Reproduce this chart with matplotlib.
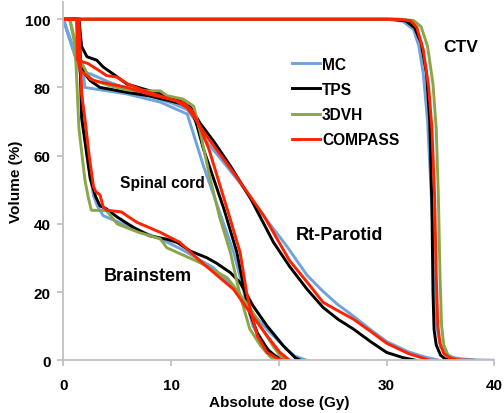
import matplotlib
matplotlib.use("Agg")
import matplotlib.pyplot as plt

# ---------------- data ----------------
series_names = ["MC", "TPS", "3DVH", "COMPASS"]
series_colors = ["#6fa3dc", "#000000", "#8ba64a", "#ff2200"]

# CTV
ctv_mc_dose = [0, 30, 31.5, 32.5, 33.0, 33.4, 33.8, 34.2, 34.45, 34.7, 35.0, 35.5, 36.2, 37.0, 38.5, 40]
ctv_mc_vol = [100, 100, 99.4, 97, 92, 84, 70, 45, 22, 9, 4, 1.8, 0.8, 0.4, 0.1, 0]
ctv_tps_dose = [0, 30.5, 31.8, 32.6, 33.2, 33.7, 34.0, 34.2, 34.3, 34.4, 34.6, 35.0, 35.4, 35.8]
ctv_tps_vol = [100, 100, 99.5, 97.5, 93, 84, 70, 45, 20, 9, 4.5, 1.5, 0.5, 0]
ctv_3d_dose = [0, 31.3, 32.5, 33.2, 33.8, 34.3, 34.6, 34.8, 34.95, 35.1, 35.3, 35.7, 36.2, 36.9]
ctv_3d_vol = [100, 100, 99.6, 97.8, 92, 81, 68, 48, 25, 10, 4.5, 1.5, 0.5, 0]
ctv_com_dose = [0, 31.0, 32.2, 32.8, 33.4, 33.9, 34.2, 34.45, 34.6, 34.75, 34.95, 35.3, 35.8, 36.6, 38.0]
ctv_com_vol = [100, 100, 99.6, 97.6, 91, 80, 68, 48, 25, 10, 5, 2, 0.8, 0.1, 0]

# Rt-Parotid (no 3DVH curve)
par_mc_dose = [0, 1.55, 2.5, 4.3, 6.0, 8.0, 10.0, 11.5, 12.2, 12.8, 14.5, 16.4, 18.3, 20.7, 22.6, 24.0,
               25.4, 26.9, 28.5, 30.0, 32.0, 33.5, 34.9]
par_mc_vol = [100, 84.5, 84, 81.5, 79.5, 77.5, 75.5, 73.5, 70.5, 66, 59.5, 52, 43.5, 33.6, 25, 20.5,
              16.5, 13, 9, 5.5, 2.5, 1, 0]
par_tps_dose = [0, 1.45, 1.7, 2.2, 3.1, 3.7, 4.6, 5.9, 7.4, 9.0, 10.8, 11.8, 12.7, 14.0, 15.5, 17.4,
                19.5, 21.0, 22.6, 24.1, 25.5, 26.9, 28.5, 30.0, 31.5, 32.7]
par_tps_vol = [100, 100, 92, 89, 88, 86, 84, 81, 79.6, 78.1, 76.1, 74.2, 69.5, 64, 57, 47.3,
               34.6, 27.5, 20.9, 15.5, 12, 9.2, 5.5, 2.3, 0.8, 0]
par_com_dose = [0, 1.25, 1.3, 2.3, 3.3, 4.0, 5.0, 6.0, 7.5, 9.0, 10.5, 11.5, 12.2, 13.0, 15.8, 18.6,
                21.0, 22.6, 24.1, 25.5, 26.9, 28.5, 30.0, 32.0, 34.0]
par_com_vol = [100, 100, 88, 87, 85, 83.5, 83, 81, 79, 77.5, 76, 74, 71, 67, 55, 42.4,
               29.2, 23, 17, 14.5, 12.1, 8.5, 5, 2, 0]

# Spinal cord
sc_mc_dose = [0, 1.9, 2.0, 5.9, 9.0, 11.5, 13.0, 14.5, 15.8, 16.6, 17.0, 17.6, 18.5, 19.5, 20.5]
sc_mc_vol = [100, 83, 80, 78.1, 75.7, 72.2, 57, 43.5, 31.7, 22, 17, 10, 5, 1.5, 0]
sc_tps_dose = [0, 1.3, 1.6, 2.0, 2.5, 3.4, 4.3, 6.0, 8.0, 10.0, 11.2, 11.8, 12.3, 13.0, 14.9, 16.1,
               16.9, 17.3, 18.0, 19.0, 19.8, 20.5]
sc_tps_vol = [100, 100, 88, 84, 82, 80, 79.5, 78.5, 77.5, 76, 75, 74, 70, 62, 44.4, 31.7,
              19, 14, 8, 3, 1, 0]
sc_3d_dose = [0, 0.6, 1.55, 1.9, 2.5, 4.3, 5.9, 7.7, 9.0, 9.6, 11.1, 12.1, 12.7, 13.5, 14.5, 15.5,
              16.4, 17.3, 18.3, 19.2, 19.8]
sc_3d_vol = [100, 100, 88, 86, 82.5, 80.5, 79.3, 79, 79, 77.6, 76.6, 74.5, 67, 55, 42, 31.7,
             19, 9.2, 4.3, 1, 0]
sc_com_dose = [0, 1.25, 1.4, 1.55, 2.8, 5.9, 8.0, 10.0, 11.2, 12.0, 12.6, 13.5, 15.3, 16.4, 17.0,
               17.5, 18.0, 18.9, 20.0, 20.5]
sc_com_vol = [100, 100, 88, 85, 82, 80, 78, 76.5, 75.5, 73, 69, 62, 43.4, 31.7, 20,
              13, 7.2, 2.3, 0.3, 0]

# Brainstem
bs_mc_dose = [0, 1.55, 1.8, 2.2, 2.8, 3.2, 3.7, 5.9, 9.0, 11.0, 13.9, 15.8, 17.5, 18.9, 20.7, 21.5, 22.6]
bs_mc_vol = [100, 85, 75, 60, 48.3, 45, 42.4, 39.5, 35.6, 32.5, 27.2, 21.3, 14, 9.1, 3.3, 1.2, 0]
bs_tps_dose = [0, 1.45, 1.7, 2.5, 3.0, 3.4, 4.0, 5.0, 6.5, 8.0, 9.6, 10.6, 11.8, 13.3, 14.2, 15.5,
               16.4, 17.6, 18.9, 20.4, 21.5, 22.0]
bs_tps_vol = [100, 100, 71, 53.2, 48, 45.3, 44.4, 42, 39, 36.5, 35.5, 34.5, 32, 30.1, 28.5, 25.7,
              22.8, 16, 10.1, 4.3, 0.8, 0]
bs_3d_dose = [0, 0.6, 1.1, 1.25, 1.45, 2.0, 2.3, 2.6, 4.0, 5.0, 7.0, 9.0, 9.6, 12.7, 15.2, 16.0,
              17.5, 18.5, 19.5, 20.2, 20.8]
bs_3d_vol = [100, 100, 92, 82, 68, 53, 48, 44, 43.9, 40, 37.5, 35.6, 33, 28.6, 24.2, 21,
             14.5, 9, 4, 1, 0]
bs_com_dose = [0, 1.45, 1.7, 2.0, 2.4, 2.8, 3.0, 3.4, 3.7, 4.0, 5.4, 5.9, 6.8, 9.0, 10.8, 12.7,
               15.8, 17.3, 18.9, 20.1, 21.0]
bs_com_vol = [100, 100, 78, 71, 60, 51, 49.5, 48.5, 45, 44, 43.5, 42.4, 40.5, 37.5, 34.6, 29.1,
              20.8, 14.1, 7.2, 2.3, 0]

x_ticks = [0, 10, 20, 30, 40]
y_ticks = [0, 20, 40, 60, 80, 100]
structure_labels = ["CTV", "Rt-Parotid", "Spinal cord", "Brainstem"]
label_pos = [(36.9, 92.0), (25.6, 37.0), (9.2, 52.1), (7.8, 24.8)]

curves = {
    "MC": [(ctv_mc_dose, ctv_mc_vol), (par_mc_dose, par_mc_vol), (sc_mc_dose, sc_mc_vol), (bs_mc_dose, bs_mc_vol)],
    "TPS": [(ctv_tps_dose, ctv_tps_vol), (par_tps_dose, par_tps_vol), (sc_tps_dose, sc_tps_vol), (bs_tps_dose, bs_tps_vol)],
    "3DVH": [(ctv_3d_dose, ctv_3d_vol), (sc_3d_dose, sc_3d_vol), (bs_3d_dose, bs_3d_vol)],
    "COMPASS": [(ctv_com_dose, ctv_com_vol), (par_com_dose, par_com_vol), (sc_com_dose, sc_com_vol), (bs_com_dose, bs_com_vol)],
}

# ---------------- plot ----------------
plt.rcParams['font.family'] = ['Liberation Sans', 'DejaVu Sans']
plt.rcParams['font.weight'] = 'bold'

fig = plt.figure(figsize=(5.04, 4.14), dpi=100)
ax = fig.add_axes([0.1256, 0.1273, 0.981 - 0.1256, 0.9923 - 0.1273])

handles = []
for name, color in zip(series_names, series_colors):
    first = True
    for d, v in curves[name]:
        ln, = ax.plot(d, v, color=color, lw=2.1, solid_joinstyle='round',
                      label=name if first else None)
        if first:
            handles.append(ln)
        first = False

ax.set_xlim(0, 40)
ax.set_ylim(0, 105)
ax.set_xticks(x_ticks)
ax.set_yticks(y_ticks)
for s in ['top', 'right']:
    ax.spines[s].set_visible(False)
for s in ['left', 'bottom']:
    ax.spines[s].set_color('#c0c0c0')
    ax.spines[s].set_linewidth(1.3)
ax.tick_params(axis='both', direction='out', length=4, width=1.3, color='#c0c0c0',
               labelsize=11)
ax.tick_params(axis='x', pad=9)
ax.tick_params(axis='y', pad=5)
for lab in ax.get_xticklabels() + ax.get_yticklabels():
    lab.set_fontweight('bold')

ax.set_xlabel("Absolute dose (Gy)", fontsize=11, fontweight='bold', labelpad=2)
ax.set_ylabel("Volume (%)", fontsize=11, fontweight='bold', labelpad=2)

sizes = [12.5, 13, 11.2, 13]
for lab, (x, y), fs in zip(structure_labels, label_pos, sizes):
    ax.text(x, y, lab, fontsize=fs, fontweight='bold', ha='center', va='center')

leg = ax.legend(handles=handles, loc='upper left', bbox_to_anchor=(0.53, 0.848),
                frameon=False, fontsize=11.2, handlelength=1.8, handletextpad=0.15,
                labelspacing=0.66, borderpad=0, borderaxespad=0)
for t in leg.get_texts():
    t.set_fontweight('bold')

fig.savefig("out.png", dpi=100)
